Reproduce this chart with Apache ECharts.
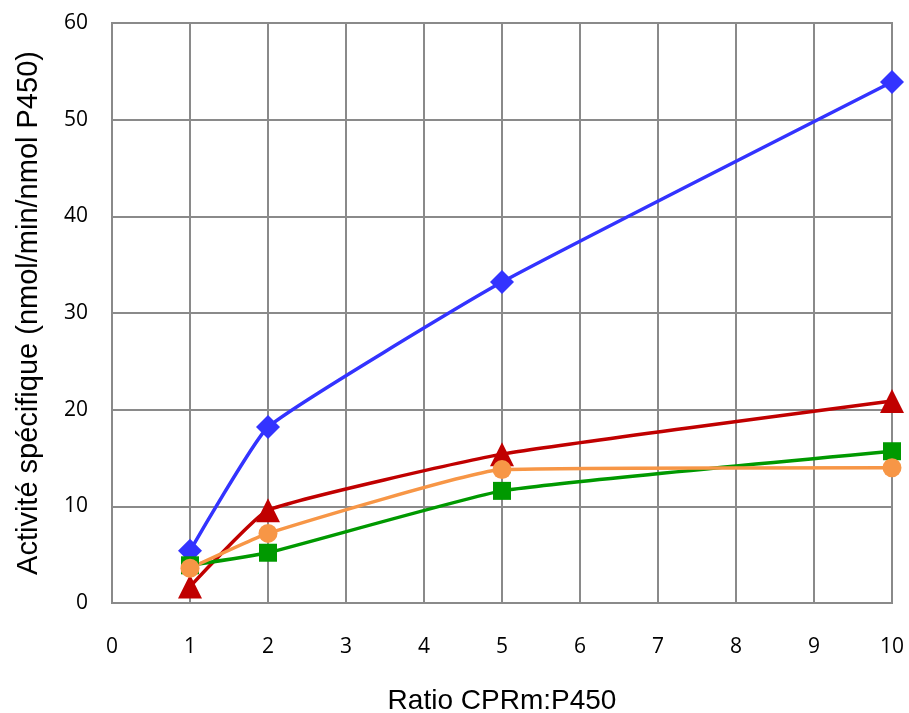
<!DOCTYPE html>
<html><head><meta charset="utf-8">
<script src="https://cdn.jsdelivr.net/npm/echarts@6/dist/echarts.min.js"></script>
<style>html,body{margin:0;padding:0;background:#fff}#c{width:909px;height:713px}</style>
</head><body><div id="c"></div>
<script>
const xValues = [1, 2, 5, 10];
const blueValues = [5.4, 18.2, 33.2, 53.9];
const redValues = [1.7, 9.6, 15.4, 20.9];
const greenValues = [3.9, 5.2, 11.6, 15.7];
const orangeValues = [3.6, 7.2, 13.8, 14.0];
const xTicks = [0,1,2,3,4,5,6,7,8,9,10];
const yTicks = [0,10,20,30,40,50,60];

const pair = v => xValues.map((x, i) => [x, v[i]]);
function mk(name, vals, color, symbol, size) {
  return { name, type: 'line', data: pair(vals), smooth: 0.12, symbol, symbolSize: size,
    lineStyle: { color, width: 3.5 }, itemStyle: { color }, z: 3 };
}
const chart = echarts.init(document.getElementById('c'));
chart.setOption({
  animation: false,
  grid: { left: 112, right: 17, top: 23, bottom: 110, show: true, borderColor: '#8a8a8a', borderWidth: 2,
    containLabel: false, outerBoundsMode: 'none' },
  xAxis: { type: 'value', min: 0, max: 10, interval: 1,
    name: 'Ratio CPRm:P450', nameLocation: 'middle', nameGap: 84,
    nameTextStyle: { fontFamily: 'Liberation Sans', fontSize: 28, color: '#000' },
    axisLine: { show: false }, axisTick: { show: false },
    axisLabel: { margin: 34, fontFamily: 'Open Sans', fontSize: 21, color: '#000', formatter: v => xTicks.includes(v) ? String(v) : '' },
    splitLine: { show: true, lineStyle: { color: '#8a8a8a', width: 2 } } },
  yAxis: { type: 'value', min: 0, max: 60, interval: 10,
    name: 'Activité spécifique (nmol/min/nmol P450)', nameLocation: 'middle', nameGap: 69,
    nameTextStyle: { fontFamily: 'Liberation Sans', fontSize: 29, color: '#000' },
    axisLine: { show: false }, axisTick: { show: false },
    axisLabel: { margin: 24, fontFamily: 'Open Sans', fontSize: 21, color: '#000', formatter: v => yTicks.includes(v) ? String(v) : '' },
    splitLine: { show: true, lineStyle: { color: '#8a8a8a', width: 2 } } },
  series: [
    mk('blue', blueValues, '#3333ff', 'diamond', 24),
    mk('red', redValues, '#c00000', 'triangle', 24),
    mk('green', greenValues, '#009900', 'rect', 18),
    mk('orange', orangeValues, '#f79646', 'circle', 19)
  ]
});
</script></body></html>
